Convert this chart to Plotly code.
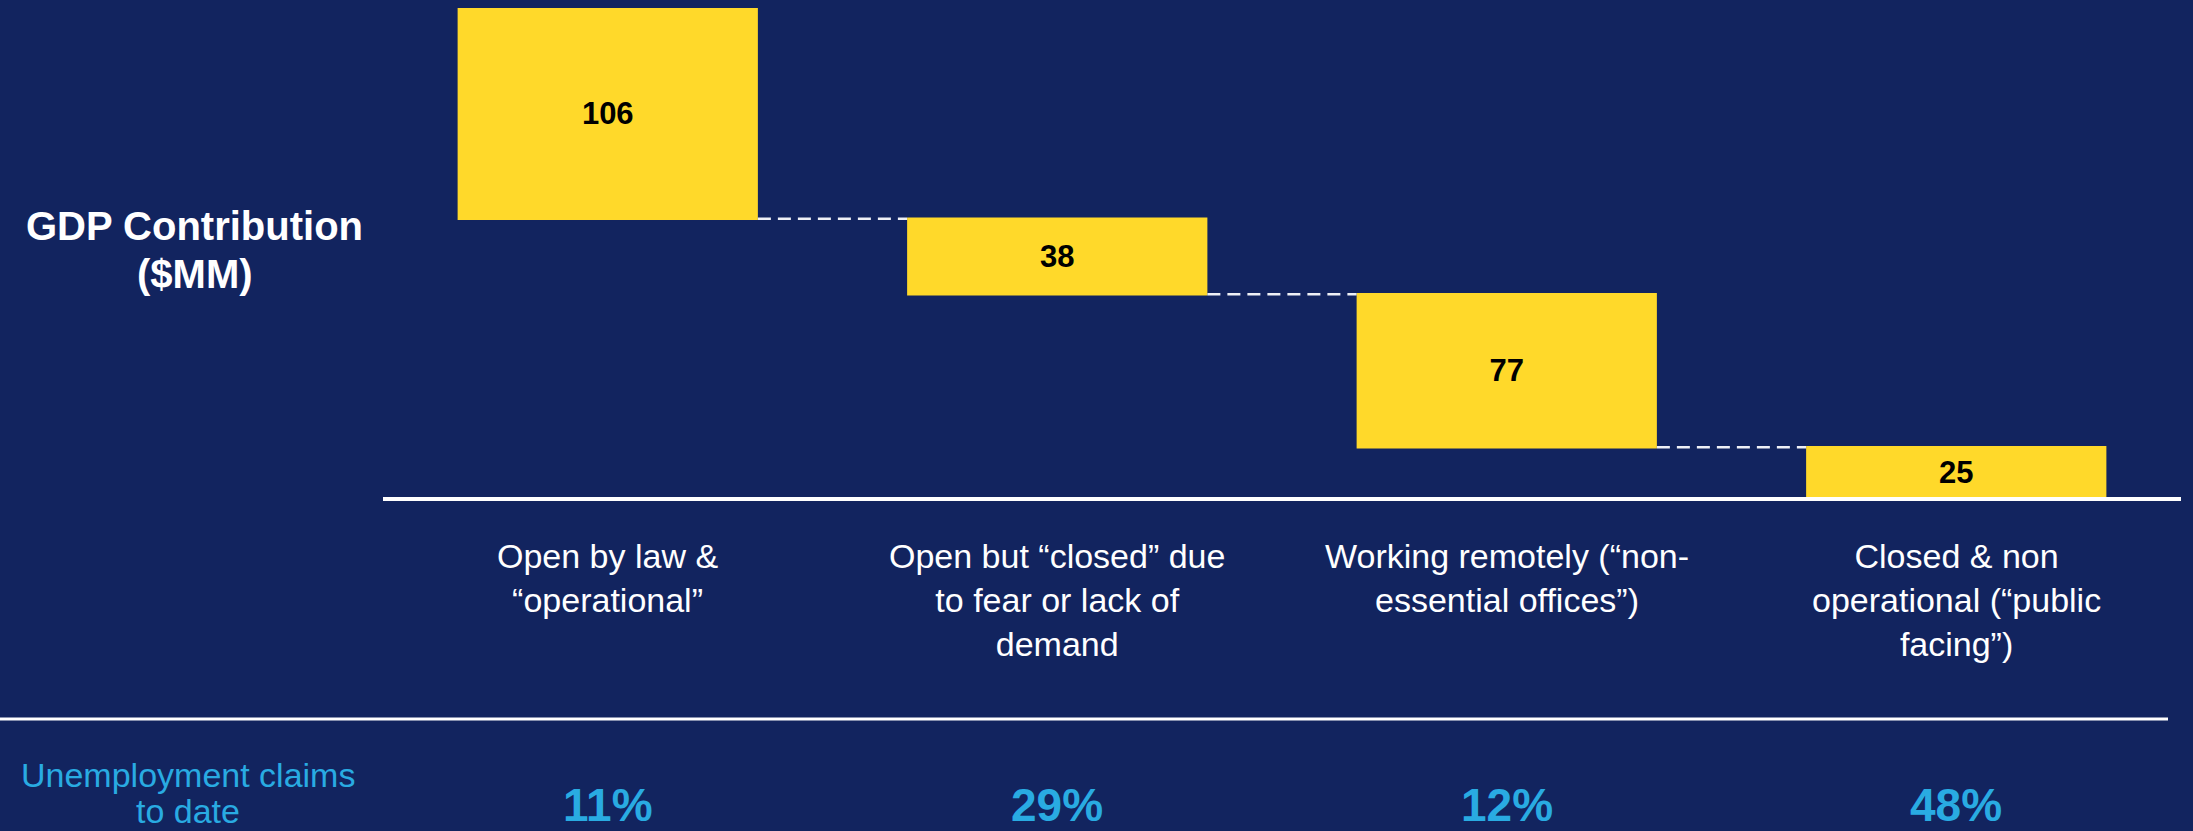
import plotly.graph_objects as go

# ---- data ----
categories = [
    "Open by law &<br>“operational”",
    "Open but “closed” due<br>to fear or lack of<br>demand",
    "Working remotely (“non-<br>essential offices”)",
    "Closed & non<br>operational (“public<br>facing”)",
]
gdp_values = [106, 38, 77, 25]
unemployment_share = ["11%", "29%", "12%", "48%"]
y_title_lines = ["GDP Contribution", "($MM)"]
row_title_lines = ["Unemployment claims", "to date"]

# ---- style ----
BG = "#12245f"
YELLOW = "#FFD92A"
BLUE = "#29ABE2"
FONT = "Liberation Sans, Arial, sans-serif"

W, H = 2193, 831
L, R, T, B = 383, 12, 8, 334
plot_w = W - L - R
plot_h = H - T - B


def py(pix):
    """pixel y (from top) -> paper y"""
    return (H - B - pix) / plot_h


def px(pix):
    """pixel x (from left) -> paper x"""
    return (pix - L) / plot_w


total = sum(gdp_values)
x_keys = [f"c{i}" for i in range(len(categories))]

fig = go.Figure()
fig.add_trace(
    go.Waterfall(
        x=x_keys,
        y=[-v for v in gdp_values],
        base=total,
        measure=["relative"] * len(gdp_values),
        decreasing=dict(marker=dict(color=YELLOW, line=dict(width=0))),
        increasing=dict(marker=dict(color=YELLOW, line=dict(width=0))),
        text=[f"<b>{v}</b>" for v in gdp_values],
        textposition="inside",
        insidetextanchor="middle",
        constraintext="none",
        textfont=dict(family=FONT, size=31, color="black"),
        connector=dict(mode="between", line=dict(color="#EEF0F6", width=2.5, dash="13px,7px")),
        hoverinfo="skip",
    )
)

annotations = []
for k, cat in zip(x_keys, categories):
    annotations.append(
        dict(x=k, xref="x", y=py(535), yref="paper", yanchor="top", xanchor="center",
             text=cat, showarrow=False, align="center",
             font=dict(family=FONT, size=34, color="white"))
    )
for k, pct in zip(x_keys, unemployment_share):
    annotations.append(
        dict(x=k, xref="x", y=py(777), yref="paper", yanchor="top", xanchor="center",
             text=f"<b>{pct}</b>", showarrow=False,
             font=dict(family=FONT, size=46, color=BLUE))
    )
for line_text, top in zip(y_title_lines, [202, 250]):
    annotations.append(
        dict(x=px(194.5), xref="paper", y=py(top), yref="paper", yanchor="top", xanchor="center",
             text=f"<b>{line_text}</b>", showarrow=False, align="center",
             font=dict(family=FONT, size=40, color="white"))
    )
for line_text, top in zip(row_title_lines, [754, 790]):
    annotations.append(
        dict(x=px(187.5), xref="paper", y=py(top), yref="paper", yanchor="top", xanchor="center",
             text=line_text, showarrow=False, align="center",
             font=dict(family=FONT, size=34, color=BLUE))
    )

fig.update_layout(
    width=W,
    height=H,
    margin=dict(l=L, r=R, t=T, b=B, pad=0),
    paper_bgcolor=BG,
    plot_bgcolor=BG,
    showlegend=False,
    waterfallgap=0.332,
    annotations=annotations,
    shapes=[
        dict(type="line", xref="paper", yref="paper", x0=px(0), x1=px(2168),
             y0=py(719), y1=py(719), line=dict(color="white", width=3))
    ],
    xaxis=dict(showline=True, linecolor="white", linewidth=4, showticklabels=False,
               ticks="", showgrid=False, zeroline=False, fixedrange=True),
    yaxis=dict(range=[0, total], visible=False, showgrid=False, zeroline=False, fixedrange=True),
)

fig.write_html(
    "out.html",
    config={"displayModeBar": False},
    post_script="document.body.style.margin='0';document.body.style.background='%s';" % BG,
)
